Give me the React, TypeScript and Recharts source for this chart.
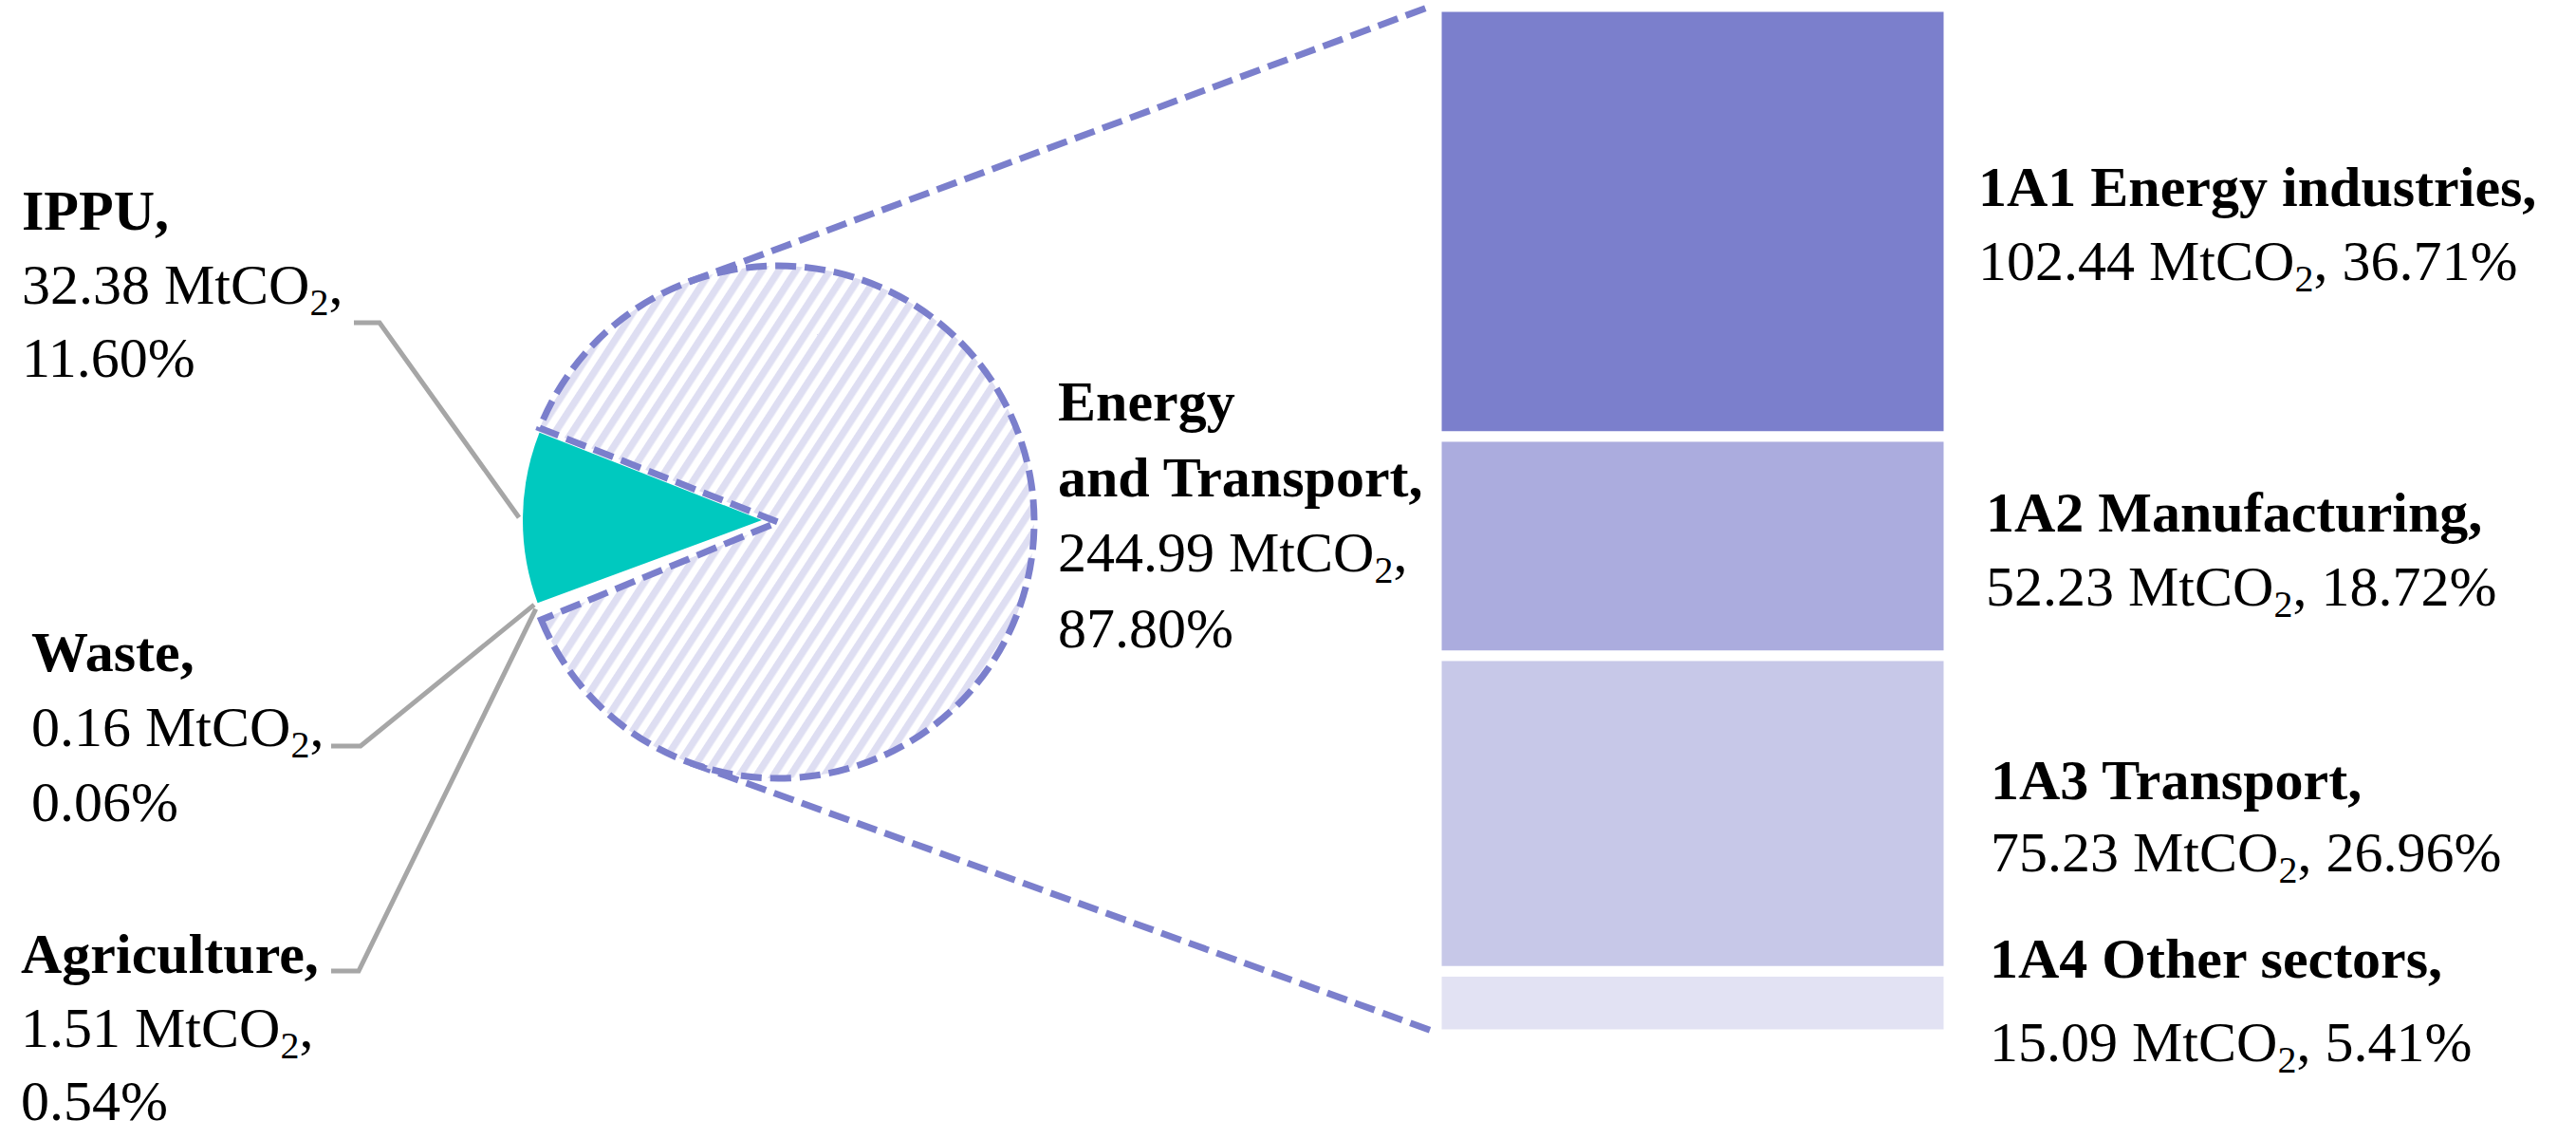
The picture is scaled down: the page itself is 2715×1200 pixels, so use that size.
import React from 'react';
import { PieChart, Pie, Cell, BarChart, Bar, XAxis, YAxis, LabelList } from 'recharts';

// emissions by sector (pie)
const sectorNames = ['IPPU', 'Waste', 'Agriculture', 'Energy and Transport'];
const sectorValues = [32.38, 0.16, 1.51, 244.99];
const sectorShares = [11.6, 0.06, 0.54, 87.8];

// breakdown of the energy slice (stacked bar)
const subsectorNames = ['1A1 Energy industries', '1A2 Manufacturing', '1A3 Transport', '1A4 Other sectors'];
const subsectorValues = [102.44, 52.23, 75.23, 15.09];
const subsectorShares = [36.71, 18.72, 26.96, 5.41];

const W = 2715;
const H = 1200;
const FONT = '"Liberation Serif", "Times New Roman", serif';
const FS = 60;
const DASH = '#7b7fcc';
const TEAL = '#00c9bf';
const GREY = '#a6a6a6';
const HATCH = '#dedef2';
const barColors = ['#7b7fcc', '#abacde', '#c7c8e8', '#e2e2f3'];

// the energy slice is pulled out a little, so it gets its own centre
const PIE_A = { cx: 803, cy: 548, r: 252 };
const PIE_B = { cx: 820, cy: 550, r: 270 };
const START = 158.5;
const BAR_MARGIN = { top: 7, right: 661, bottom: 110, left: 1514 };
const RAD = Math.PI / 180;

const pieData = sectorNames.map((name, i) => ({ name, value: sectorValues[i] }));
const barRow: Record<string, any> = { name: 'Energy and Transport' };
subsectorValues.forEach((v, i) => { barRow[`s${i}`] = v; });
const barData = [barRow];
const barTotal = subsectorValues.reduce((a, b) => a + b, 0);
const stackOrder = [3, 2, 1, 0];

// label placement
const pieLabelPos: any[] = [
  { x: 23, y: 242, gap: 77.5, lead: [373, 340, 400] },
  { x: 33, y: 707, gap: 79, lead: [349, 786, 380] },
  { x: 22, y: 1025, gap: 77.5, lead: [349, 1023, 378] },
  { x: 1115, y: 443, gap: 79.5, wrap: 6 },
];
const barLabelPos = [
  { dx: 31, dy: -16, gap: 78 },
  { dx: 39, dy: -15, gap: 78 },
  { dx: 44, dy: -15, gap: 76 },
  { dx: 43, dy: -27, gap: 88 },
];

const Co2 = ({ x, y, value, tail }: any) => (
  <text x={x} y={y} fontFamily={FONT} fontSize={FS} fill="#000">
    {`${value.toFixed(2)} MtCO`}
    <tspan fontSize={40} dy={12}>2</tspan>
    <tspan dy={-12}>{tail}</tspan>
  </text>
);

const renderPieLabel = (visible: number[]) => (props: any) => {
  const { cx, cy, midAngle, outerRadius, index } = props;
  if (!visible.includes(index)) return <g key={`pl-${index}`} />;
  const pos = pieLabelPos[index];
  const name = sectorNames[index];
  const lines = pos.wrap ? [name.slice(0, pos.wrap), name.slice(pos.wrap + 1)] : [name];
  const ex = cx + (outerRadius + 4) * Math.cos(-midAngle * RAD);
  const ey = cy + (outerRadius + 4) * Math.sin(-midAngle * RAD);
  return (
    <g key={`pl-${index}`}>
      {pos.lead && (
        <polyline
          points={`${pos.lead[0]},${pos.lead[1]} ${pos.lead[2]},${pos.lead[1]} ${ex},${ey}`}
          fill="none"
          stroke={GREY}
          strokeWidth={5}
        />
      )}
      {lines.map((t, k) => (
        <text key={k} x={pos.x} y={pos.y + k * pos.gap} fontFamily={FONT} fontSize={FS} fontWeight="bold" fill="#000">
          {k === lines.length - 1 ? `${t},` : t}
        </text>
      ))}
      <Co2 x={pos.x} y={pos.y + lines.length * pos.gap} value={sectorValues[index]} tail="," />
      <text x={pos.x} y={pos.y + (lines.length + 1) * pos.gap} fontFamily={FONT} fontSize={FS} fill="#000">
        {`${sectorShares[index].toFixed(2)}%`}
      </text>
    </g>
  );
};

const renderBarLabel = (i: number) => (p: any) => {
  const vb = p.viewBox && p.viewBox.width != null ? p.viewBox : p;
  const pos = barLabelPos[i];
  const tx = Number(vb.x) + Number(vb.width) + pos.dx;
  const ty = Number(vb.y) + Number(vb.height) / 2 + pos.dy;
  return (
    <g key={`bl-${i}`}>
      <text x={tx} y={ty} fontFamily={FONT} fontSize={FS} fontWeight="bold" fill="#000">
        {`${subsectorNames[i]},`}
      </text>
      <Co2 x={tx} y={ty + pos.gap} value={subsectorValues[i]} tail={`, ${subsectorShares[i].toFixed(2)}%`} />
    </g>
  );
};

// point where a line from p touches the circle
const tangent = (c: any, r: number, px: number, py: number, sign: number) => {
  const dx = px - c.cx;
  const dy = py - c.cy;
  const d = Math.hypot(dx, dy);
  const a = Math.atan2(dy, dx) + sign * Math.acos(r / d);
  return { x: c.cx + r * Math.cos(a), y: c.cy + r * Math.sin(a) };
};

const topEnd = { x: BAR_MARGIN.left - 7, y: BAR_MARGIN.top };
const botEnd = { x: BAR_MARGIN.left - 2, y: H - BAR_MARGIN.bottom - 3 };
const topStart = tangent(PIE_B, PIE_B.r, topEnd.x, topEnd.y, -1);
const botStart = tangent(PIE_B, PIE_B.r, botEnd.x, botEnd.y, 1);

export default function App() {
  return (
    <div style={{ position: 'absolute', left: 0, top: 0, width: W, height: H, background: '#fff' }}>
      <div style={{ position: 'absolute', left: 0, top: 0 }}>
        <BarChart width={W} height={H} data={barData} margin={BAR_MARGIN} barCategoryGap={0}>
          <XAxis dataKey="name" hide />
          <YAxis hide type="number" domain={[0, barTotal]} allowDataOverflow />
          {stackOrder.map((i) => (
            <Bar
              key={i}
              dataKey={`s${i}`}
              stackId="energy"
              fill={barColors[i]}
              stroke="#fff"
              strokeWidth={11}
              isAnimationActive={false}
            >
              <LabelList dataKey={`s${i}`} content={renderBarLabel(i)} />
            </Bar>
          ))}
        </BarChart>
      </div>
      <div style={{ position: 'absolute', left: 0, top: 0 }}>
        <PieChart width={W} height={H} margin={{ top: 0, right: 0, bottom: 0, left: 0 }}>
          <defs>
            <pattern id="hatch" patternUnits="userSpaceOnUse" width={15} height={15} patternTransform="rotate(33)">
              <rect x={0} y={0} width={7.5} height={15} fill={HATCH} />
            </pattern>
          </defs>
          <Pie
            data={pieData}
            dataKey="value"
            cx={PIE_A.cx}
            cy={PIE_A.cy}
            outerRadius={PIE_A.r}
            startAngle={START}
            endAngle={START + 360}
            label={renderPieLabel([0, 1, 2])}
            labelLine={false}
            isAnimationActive={false}
          >
            {pieData.map((d, i) => (
              <Cell key={d.name} fill={i === 0 ? TEAL : 'none'} stroke="none" />
            ))}
          </Pie>
          <Pie
            data={pieData}
            dataKey="value"
            cx={PIE_B.cx}
            cy={PIE_B.cy}
            outerRadius={PIE_B.r}
            startAngle={START}
            endAngle={START + 360}
            label={renderPieLabel([3])}
            labelLine={false}
            isAnimationActive={false}
          >
            {pieData.map((d, i) =>
              i === 3 ? (
                <Cell key={d.name} fill="url(#hatch)" stroke={DASH} strokeWidth={7} strokeDasharray="22 9" />
              ) : (
                <Cell key={d.name} fill="none" stroke="none" />
              )
            )}
          </Pie>
          <line x1={topStart.x} y1={topStart.y} x2={topEnd.x} y2={topEnd.y} stroke={DASH} strokeWidth={7} strokeDasharray="22 9" />
          <line x1={botStart.x} y1={botStart.y} x2={botEnd.x} y2={botEnd.y} stroke={DASH} strokeWidth={7} strokeDasharray="22 9" />
        </PieChart>
      </div>
    </div>
  );
}
